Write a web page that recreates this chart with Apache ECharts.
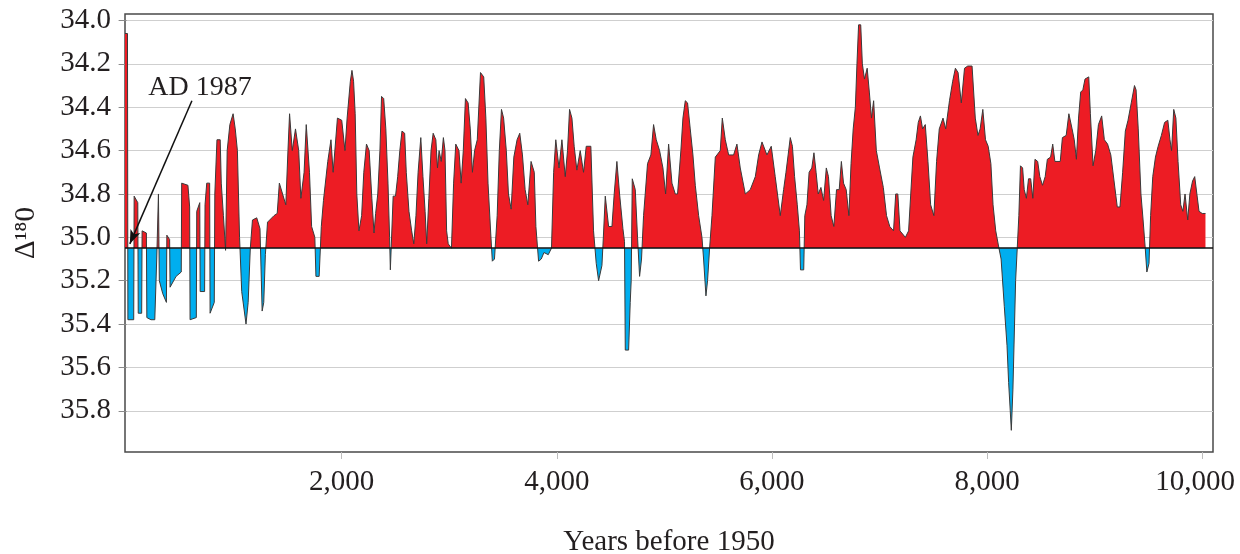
<!DOCTYPE html>
<html>
<head>
<meta charset="utf-8">
<script src="https://cdn.jsdelivr.net/npm/echarts@6/dist/echarts.min.js"></script>
<style>
  html, body { margin: 0; padding: 0; background: #fff; }
  #chart { width: 1240px; height: 554px; }
</style>
</head>
<body>
<div id="chart"></div>
<script>
// years before 1950 and the matching delta-18O values
const years = [
  -15, 8, 12, 66, 70, 104, 108, 140, 144, 184, 188, 226, 262, 280, 296, 300, 304, 336, 370, 374,
  400, 404, 460, 508, 512, 570, 586, 590, 648, 652, 680, 684, 725, 729, 745, 772, 776, 815, 820, 840,
  850, 870, 880, 900, 920, 935, 960, 990, 1010, 1030, 1050, 1070, 1110, 1130, 1150, 1170, 1210, 1240, 1260, 1275,
  1290, 1310, 1370, 1400, 1420, 1450, 1480, 1500, 1515, 1540, 1570, 1600, 1620, 1650, 1670, 1700, 1720, 1750, 1760, 1790,
  1810, 1830, 1870, 1900, 1920, 1960, 2000,
  2030, 2050, 2080, 2095, 2110, 2125, 2140, 2160, 2185, 2205, 2230, 2255, 2280, 2300, 2315, 2335, 2355, 2370, 2390, 2410,
  2430, 2445, 2452, 2470, 2478, 2500, 2520, 2540, 2560, 2585, 2600, 2625, 2650, 2670, 2690, 2710, 2735, 2755, 2775, 2790,
  2810, 2830, 2850, 2875, 2890, 2905, 2925, 2945, 2960, 2975, 2990, 3020, 3040, 3060, 3090, 3110, 3130, 3150, 3175, 3195,
  3215, 3235, 3260, 3290, 3320, 3340, 3360, 3385, 3400, 3420, 3445, 3465, 3485, 3505, 3530, 3550, 3575, 3600, 3630, 3655,
  3680, 3705, 3730, 3760, 3790, 3805, 3830, 3855, 3880, 3920, 3950, 3970, 3990, 4020,
  4047, 4078, 4099, 4118, 4140, 4161, 4186, 4217, 4248, 4273, 4316, 4341, 4366, 4388, 4419, 4434, 4450, 4481, 4512, 4533,
  4558, 4583, 4614, 4629, 4636, 4667, 4682, 4691, 4701, 4729, 4750, 4769, 4787, 4806, 4843, 4874, 4899, 4924, 4955, 4986,
  5011, 5039, 5070, 5101, 5122, 5153, 5172, 5194, 5215, 5240, 5265, 5287, 5318, 5349, 5364, 5386, 5401, 5420, 5442, 5473,
  5519, 5538, 5566, 5597, 5643, 5674, 5705, 5752, 5798, 5845, 5876, 5907, 5953, 5993, 6030, 6077,
  6108, 6130, 6150, 6170, 6190, 6210, 6235, 6255, 6265, 6295, 6305, 6325, 6345, 6370, 6390, 6410, 6430, 6455, 6480, 6505,
  6525, 6550, 6575, 6600, 6625, 6645, 6665, 6690, 6715, 6735, 6755, 6775, 6790, 6805, 6825, 6840, 6860, 6885, 6905, 6925,
  6945, 6970, 7000, 7035, 7065, 7095, 7130, 7150, 7170, 7190, 7240, 7270, 7290, 7310, 7340, 7360, 7380, 7400, 7425, 7450,
  7475, 7505, 7530, 7555, 7590, 7615, 7650, 7680, 7705, 7730, 7760, 7790, 7820, 7860, 7890, 7915, 7935, 7960, 7985, 8010,
  8035, 8055, 8080, 8110,
  8130, 8160, 8185, 8200, 8215, 8225, 8240, 8255, 8265, 8280, 8295, 8310, 8330, 8345, 8365, 8385, 8405, 8425, 8445, 8470,
  8490, 8515, 8540, 8560, 8590, 8610, 8630, 8680, 8700, 8735, 8760, 8790, 8810, 8830, 8850, 8870, 8890, 8910, 8945, 8960,
  8985, 9010, 9035, 9065, 9090, 9120, 9150, 9180, 9210, 9235, 9260, 9285, 9310, 9340, 9370, 9385, 9405, 9430, 9450, 9470,
  9485, 9505, 9520, 9540, 9565, 9590, 9620, 9650, 9680, 9700, 9715, 9735, 9755, 9775, 9800, 9820, 9840, 9865, 9885, 9910,
  9930, 9950, 9970, 10000, 10030
];
const d18O = [
  34.06, 34.06, 35.38, 35.38, 34.81, 34.84, 35.35, 35.35, 34.97, 34.98, 35.37, 35.38, 35.38, 35.1, 34.8, 34.8, 35.2, 35.26, 35.3, 34.99,
  35.01, 35.23, 35.18, 35.16, 34.75, 34.76, 34.86, 35.38, 35.37, 34.88, 34.84, 35.25, 35.25, 34.85, 34.75, 34.75, 35.35, 35.3, 34.8, 34.55,
  34.55, 34.55, 34.75, 34.9, 35.06, 34.6, 34.48, 34.43, 34.5, 34.6, 35.0, 35.25, 35.4, 35.3, 35.05, 34.92, 34.91, 34.96, 35.34, 35.3,
  35.08, 34.93, 34.9, 34.89, 34.75, 34.8, 34.85, 34.6, 34.43, 34.6, 34.5, 34.6, 34.82, 34.7, 34.48, 34.7, 34.95, 35.0, 35.18, 35.18,
  34.95, 34.83, 34.65, 34.55, 34.7, 34.45, 34.46,
  34.6, 34.45, 34.28, 34.23, 34.28, 34.43, 34.8, 34.97, 34.9, 34.7, 34.57, 34.6, 34.82, 34.98, 34.89, 34.8, 34.6, 34.35, 34.36, 34.5,
  34.75, 35.0, 35.15, 35.15, 34.81, 34.81, 34.72, 34.6, 34.51, 34.52, 34.7, 34.88, 34.97, 35.03, 34.9, 34.7, 34.54, 34.72, 34.88, 35.03,
  34.82, 34.6, 34.52, 34.55, 34.68, 34.6, 34.65, 34.54, 34.6, 34.97, 35.03, 35.05, 34.75, 34.57, 34.6, 34.75, 34.6, 34.36, 34.38, 34.5,
  34.7, 34.6, 34.55, 34.24, 34.26, 34.45, 34.75, 34.98, 35.11, 35.1, 34.9, 34.6, 34.41, 34.45, 34.6, 34.8, 34.87, 34.63, 34.55, 34.52,
  34.62, 34.78, 34.85, 34.65, 34.7, 34.95, 35.11, 35.1, 35.07, 35.08, 35.05, 34.7, 34.55, 34.68,
  34.55, 34.72, 34.6, 34.41, 34.45, 34.58, 34.69, 34.6, 34.7, 34.58, 34.58, 34.97, 35.12, 35.2, 35.13, 34.98, 34.81, 34.95, 34.95, 34.8,
  34.65, 34.8, 34.96, 35.02, 35.52, 35.52, 35.3, 35.2, 34.73, 34.78, 35.0, 35.18, 35.1, 34.9, 34.66, 34.62, 34.48, 34.55, 34.6, 34.68,
  34.8, 34.57, 34.75, 34.8, 34.8, 34.6, 34.45, 34.37, 34.38, 34.5, 34.62, 34.76, 34.9, 35.0, 35.1, 35.27, 35.2, 35.05, 34.9, 34.63,
  34.6, 34.45, 34.55, 34.62, 34.62, 34.57, 34.68, 34.8, 34.78, 34.72, 34.62, 34.56, 34.62, 34.58, 34.72, 34.9,
  34.78, 34.7, 34.62, 34.54, 34.58, 34.72, 34.85, 34.97, 35.15, 35.15, 34.9, 34.85, 34.7, 34.68, 34.61, 34.7, 34.8, 34.77, 34.83, 34.68,
  34.72, 34.9, 34.95, 34.78, 34.78, 34.65, 34.75, 34.78, 34.9, 34.66, 34.5, 34.4, 34.2, 34.02, 34.02, 34.2, 34.27, 34.22, 34.33, 34.45,
  34.37, 34.6, 34.68, 34.77, 34.9, 34.95, 34.97, 34.8, 34.8, 34.97, 35.0, 34.97, 34.8, 34.63, 34.55, 34.47, 34.44, 34.5, 34.48, 34.65,
  34.85, 34.9, 34.65, 34.5, 34.45, 34.5, 34.37, 34.28, 34.22, 34.24, 34.38, 34.22, 34.21, 34.21, 34.45, 34.53, 34.5, 34.41, 34.55, 34.58,
  34.66, 34.85, 34.97, 35.05,
  35.1, 35.32, 35.5, 35.67, 35.8, 35.89, 35.7, 35.4, 35.2, 35.05, 34.9, 34.67, 34.68, 34.78, 34.82, 34.73, 34.73, 34.82, 34.64, 34.65,
  34.72, 34.76, 34.72, 34.64, 34.63, 34.57, 34.65, 34.65, 34.54, 34.53, 34.43, 34.5, 34.55, 34.64, 34.45, 34.33, 34.32, 34.27, 34.26, 34.43,
  34.67, 34.6, 34.48, 34.44, 34.55, 34.57, 34.62, 34.74, 34.86, 34.86, 34.7, 34.51, 34.46, 34.38, 34.3, 34.32, 34.5, 34.8, 34.92, 35.05,
  35.16, 35.12, 34.9, 34.72, 34.63, 34.58, 34.53, 34.47, 34.46, 34.55, 34.6, 34.41, 34.45, 34.65, 34.85, 34.88, 34.8, 34.92, 34.8, 34.74,
  34.72, 34.8, 34.88, 34.89, 34.89
];
const baseline = 35.05;
const yTicks = [34.0, 34.2, 34.4, 34.6, 34.8, 35.0, 35.2, 35.4, 35.6, 35.8];
const xTicks = [2000, 4000, 6000, 8000, 10000];
// arrow for the AD 1987 note: [year, value] of tail and head
const noteTail = [607, 34.37];
const noteHead = [30, 35.03];
const notePos = [682, 34.31];

const font = 'Liberation Serif';
const textColor = '#231f20';
const red = '#ed1c24';
const blue = '#00aeef';

const chart = echarts.init(document.getElementById('chart'));

const option = {
  animation: false,
  backgroundColor: '#fff',
  grid: {
    left: 125,
    right: 27,
    top: 14,
    bottom: 102,
    outerBoundsMode: 'none',
    containLabel: false,
    show: true,
    borderColor: '#4a4a4a',
    borderWidth: 1.5
  },
  xAxis: {
    type: 'value',
    min: -15,
    max: 10100,
    name: 'Years before 1950',
    nameLocation: 'middle',
    nameGap: 76,
    nameTextStyle: { fontFamily: font, fontSize: 29, color: textColor },
    axisLine: { show: false },
    axisTick: {
      show: true,
      customValues: xTicks,
      length: 7,
      lineStyle: { color: '#bdbdbd' }
    },
    axisLabel: {
      customValues: xTicks,
      margin: 16,
      fontFamily: font,
      fontSize: 29,
      color: textColor,
      // last label sits a little left of its tick, as in the print
      formatter: v => v === 10000 ? '{r|' + v.toLocaleString('en-US') + '}' : v.toLocaleString('en-US'),
      rich: {
        r: { fontFamily: font, fontSize: 29, color: textColor, padding: [0, 14, 0, 0] }
      }
    },
    splitLine: { show: false }
  },
  yAxis: {
    type: 'value',
    inverse: true,
    min: 33.97,
    max: 35.99,
    name: 'Δ¹⁸0',
    nameLocation: 'middle',
    nameGap: 84,
    nameRotate: 90,
    nameTextStyle: { fontFamily: font, fontSize: 29, color: textColor },
    axisLine: { show: false },
    axisTick: {
      show: true,
      customValues: yTicks,
      length: 8,
      lineStyle: { color: '#8a8a8a' }
    },
    axisLabel: {
      customValues: yTicks,
      margin: 14,
      fontFamily: font,
      fontSize: 29,
      color: textColor,
      formatter: v => v.toFixed(1)
    },
    splitLine: {
      show: true,
      lineStyle: { color: '#cfcfcf', width: 1 }
    }
  },
  series: [
    {
      type: 'line',
      data: years.map((y, i) => [y, d18O[i]]),
      showSymbol: false,
      lineStyle: { color: '#3a3a3a', width: 1 },
      areaStyle: { origin: baseline, opacity: 1, color: red },
      markLine: {
        silent: true,
        symbol: ['none', 'none'],
        label: { show: false },
        lineStyle: { color: '#111', width: 1.5, type: 'solid' },
        data: [
          { yAxis: baseline },
          [
            { coord: noteTail, symbol: 'none' },
            { coord: noteHead, symbol: 'arrow', symbolSize: [8, 14] }
          ]
        ]
      },
      markPoint: {
        silent: true,
        symbol: 'circle',
        symbolSize: 0,
        itemStyle: { color: 'transparent' },
        label: {
          show: true,
          position: 'inside',
          formatter: 'AD 1987',
          fontFamily: font,
          fontSize: 28,
          color: textColor
        },
        data: [{ coord: notePos }]
      }
    }
  ]
};

chart.setOption(option);

// split the area fill at the baseline: red above, blue below
const h = chart.getHeight();
const baseY = chart.convertToPixel({ yAxisIndex: 0 }, baseline);
const stop = Math.min(Math.max(baseY / h, 0), 1);
chart.setOption({
  series: [{
    areaStyle: {
      color: new echarts.graphic.LinearGradient(0, 0, 0, h, [
        { offset: 0, color: red },
        { offset: stop, color: red },
        { offset: stop, color: blue },
        { offset: 1, color: blue }
      ], true)
    }
  }]
});
</script>
</body>
</html>
